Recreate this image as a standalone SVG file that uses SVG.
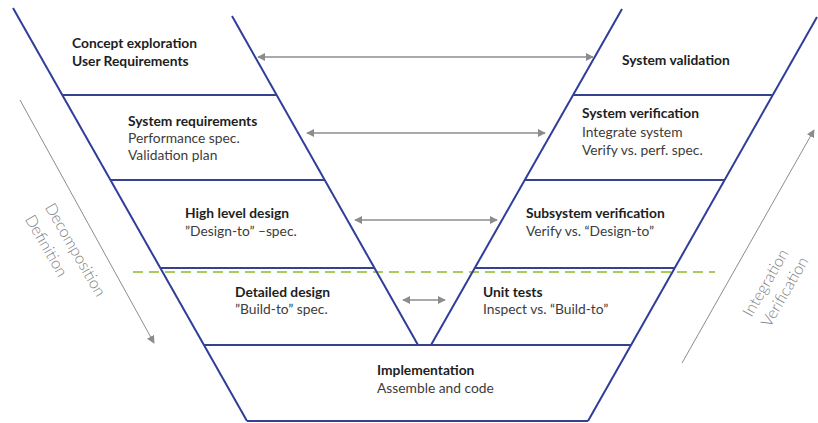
<svg xmlns="http://www.w3.org/2000/svg" width="818" height="423" viewBox="0 0 818 423">
<defs>
<marker id="ah" viewBox="0 0 10 10" refX="9" refY="5" markerWidth="8" markerHeight="8" markerUnits="userSpaceOnUse" orient="auto-start-reverse">
<path d="M0,0 L10,5 L0,10 z" fill="#8c8c8c"/>
</marker>
<style>
.frame{stroke:#2f3d9a;stroke-width:2;fill:none}
.sep{stroke:#34428f;stroke-width:2;fill:none}
.conn{stroke:#8c8c8c;stroke-width:1.5;fill:none}
.diag{stroke:#8c8c8c;stroke-width:1;fill:none}
.dash{stroke:#aacb5c;stroke-width:1.8;stroke-dasharray:10,6;fill:none}
.b{font-family:Lato,"Liberation Sans",sans-serif;font-size:13.8px;font-weight:bold;fill:#1e1e1e}
.r{font-family:Lato,"Liberation Sans",sans-serif;font-size:13.8px;fill:#3c3c3c}
.side{font-family:Lato,"Liberation Sans",sans-serif;font-size:16px;font-weight:300;fill:#808080;text-anchor:middle}
</style>
</defs>
<rect width="818" height="423" fill="#ffffff"/>
<line class="dash" x1="133" y1="272" x2="715" y2="272"/>
<g id="frame">
<line class="frame" x1="13" y1="8" x2="247" y2="421"/>
<line class="frame" x1="232" y1="16" x2="418" y2="345"/>
<line class="frame" x1="622" y1="9" x2="431" y2="345"/>
<line class="frame" x1="817" y1="17" x2="588" y2="421"/>
</g>
<g id="concept">
<text class="b" x="72" y="48">Concept exploration</text>
<text class="b" x="72" y="66">User Requirements</text>
</g>
<g id="sysreq">
<line class="sep" x1="62" y1="95" x2="277" y2="95"/>
<text class="b" x="128" y="126">System requirements</text>
<text class="r" x="128" y="143">Performance spec.</text>
<text class="r" x="128" y="160">Validation plan</text>
</g>
<g id="hld">
<line class="sep" x1="111" y1="180" x2="325" y2="180"/>
<text class="b" x="185" y="218">High level design</text>
<text class="r" x="185" y="236">”Design-to” –spec.</text>
</g>
<g id="dd">
<line class="sep" x1="160" y1="268" x2="375" y2="268"/>
<text class="b" x="235" y="297">Detailed design</text>
<text class="r" x="235" y="314">”Build-to” spec.</text>
</g>
<g id="impl">
<line class="sep" x1="204" y1="345" x2="631" y2="345"/>
<line class="sep" x1="247" y1="421" x2="588" y2="421"/>
<text class="b" x="377" y="375">Implementation</text>
<text class="r" x="377" y="393">Assemble and code</text>
</g>
<g id="sysval">
<text class="b" x="622" y="65">System validation</text>
</g>
<g id="sysver">
<line class="sep" x1="573" y1="95" x2="773" y2="95"/>
<text class="b" x="582" y="118">System verification</text>
<text class="r" x="582" y="137">Integrate system</text>
<text class="r" x="582" y="155">Verify vs. perf. spec.</text>
</g>
<g id="subver">
<line class="sep" x1="525" y1="180" x2="725" y2="180"/>
<text class="b" x="526" y="218">Subsystem verification</text>
<text class="r" x="526" y="236">Verify vs. “Design-to”</text>
</g>
<g id="unit">
<line class="sep" x1="475" y1="268" x2="675" y2="268"/>
<text class="b" x="483" y="297">Unit tests</text>
<text class="r" x="483" y="314">Inspect vs. “Build-to”</text>
</g>
<g id="connectors">
<line class="conn" x1="258" y1="57" x2="593" y2="57" marker-start="url(#ah)" marker-end="url(#ah)"/>
<line class="conn" x1="307" y1="133" x2="545" y2="133" marker-start="url(#ah)" marker-end="url(#ah)"/>
<line class="conn" x1="355" y1="220" x2="497" y2="220" marker-start="url(#ah)" marker-end="url(#ah)"/>
<line class="conn" x1="403" y1="300" x2="445" y2="300" marker-start="url(#ah)" marker-end="url(#ah)"/>
<line class="diag" x1="20" y1="100" x2="154" y2="343" marker-end="url(#ah)"/>
<line class="diag" x1="682" y1="363" x2="814" y2="130" marker-end="url(#ah)"/>
</g>
<g id="labels">
<text class="side" transform="translate(75,250) rotate(60)" y="5">Decomposition</text>
<text class="side" transform="translate(46,246) rotate(60)" y="5">Definition</text>
<text class="side" transform="translate(766,283) rotate(-60)" y="5">Integration</text>
<text class="side" transform="translate(785,292) rotate(-60)" y="5">Verification</text>
</g>
</svg>
